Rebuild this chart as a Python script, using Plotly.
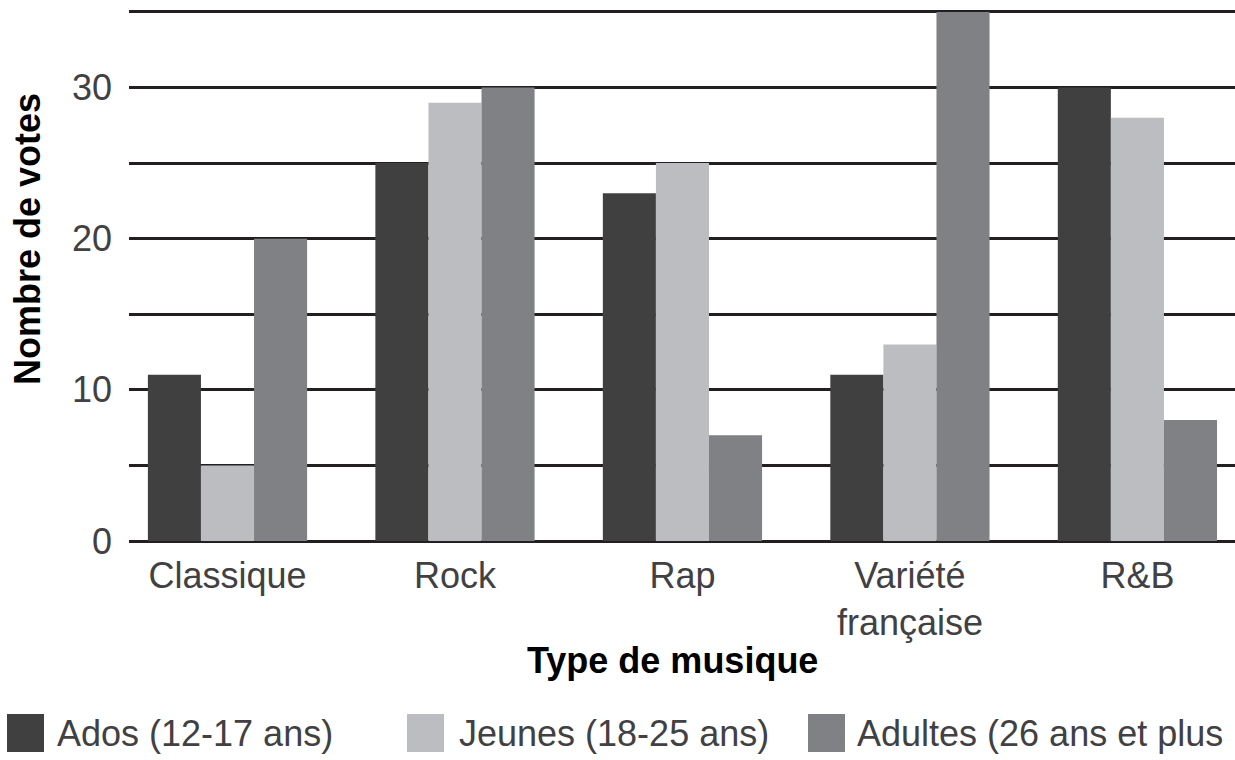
import plotly.graph_objects as go

# Survey data: votes per music type, by age group
categories = ["Classique", "Rock", "Rap", "Variété<br>française", "R&B"]
series_names = ["Ados (12-17 ans)", "Jeunes (18-25 ans)", "Adultes (26 ans et plus"]
ados = [11, 25, 23, 11, 30]
jeunes = [5, 29, 25, 13, 28]
adultes = [20, 30, 7, 35, 8]
y_tickvals = [0, 5, 10, 15, 20, 25, 30, 35]
y_ticktext = ["0", "", "10", "", "20", "", "30", ""]

colors = ["#404041", "#bcbdc0", "#808184"]
FONT = "Liberation Sans, Arial, sans-serif"
TEXT = "#414042"

# plot-area geometry in pixels (used to place the hand-made legend and titles)
W, H = 1235, 760
L, R, T, B = 129, 0, 10, 219
pw, ph = W - L - R, H - T - B


def xp(px):
    return (px - L) / pw


def yp(py):
    return (H - B - py) / ph


fig = go.Figure()
for name, vals, col in zip(series_names, [ados, jeunes, adultes], colors):
    fig.add_trace(go.Bar(x=categories, y=vals, name=name, marker_color=col,
                         marker_line_width=0, showlegend=False))

shapes = []
annotations = []
legend_boxes = [(7, 55), (407, 457), (808, 855)]
for (sq_x, tx_x), name, col in zip(legend_boxes, series_names, colors):
    shapes.append(dict(type="rect", xref="paper", yref="paper",
                       x0=xp(sq_x), x1=xp(sq_x + 37), y0=yp(752), y1=yp(714),
                       fillcolor=col, line_width=0))
    annotations.append(dict(text=name, xref="paper", yref="paper",
                            x=xp(tx_x), y=yp(733), xanchor="left", yanchor="middle",
                            showarrow=False, font=dict(family=FONT, size=36, color=TEXT)))

annotations.append(dict(text="<b>Type de musique</b>", xref="paper", yref="paper",
                        x=xp(672), y=yp(660), xanchor="center", yanchor="middle",
                        showarrow=False, font=dict(family=FONT, size=36, color="#000000")))
annotations.append(dict(text="<b>Nombre de votes</b>", xref="paper", yref="paper",
                        x=xp(28), y=yp(239), xanchor="center", yanchor="middle",
                        textangle=-90, showarrow=False,
                        font=dict(family=FONT, size=36, color="#000000")))

fig.update_layout(
    width=W, height=H,
    margin=dict(l=L, r=R, t=T, b=B),
    paper_bgcolor="white", plot_bgcolor="white",
    barmode="group", bargap=0.30, bargroupgap=0,
    font=dict(family=FONT, size=36, color=TEXT),
    shapes=shapes, annotations=annotations,
    xaxis=dict(range=[-0.433, 4.429], showgrid=False, zeroline=False,
               showline=False, ticks="", ticklabelstandoff=10,
               tickfont=dict(family=FONT, size=36, color=TEXT)),
    yaxis=dict(range=[0, 35.13], tickvals=y_tickvals, ticktext=y_ticktext,
               showgrid=True, gridcolor="#231f20", gridwidth=2.5,
               zeroline=True, zerolinecolor="#231f20", zerolinewidth=3,
               showline=False, ticks="", ticklabelstandoff=16,
               tickfont=dict(family=FONT, size=36, color=TEXT)),
)

fig.write_html("out.html")
